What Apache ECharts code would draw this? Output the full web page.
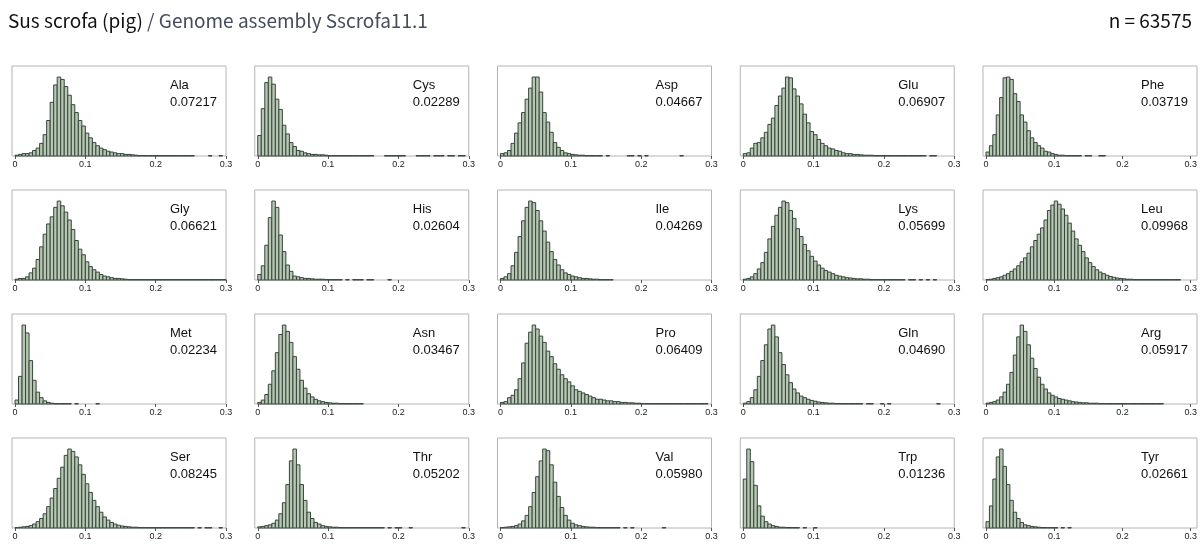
<!DOCTYPE html>
<html><head><meta charset="utf-8">
<script src="https://cdn.jsdelivr.net/npm/echarts@6/dist/echarts.min.js"></script>
<style>html,body{margin:0;padding:0;background:#fff}#c{width:1200px;height:545px}</style>
</head><body><div id="c"></div>
<script>
const speciesTitle = 'Sus scrofa (pig)';
const assemblyTitle = ' / Genome assembly Sscrofa11.1';
const countLabel = 'n = 63575';
const aminoAcids = ['Ala','Cys','Asp','Glu','Phe','Gly','His','Ile','Lys','Leu','Met','Asn','Pro','Gln','Arg','Ser','Thr','Val','Trp','Tyr'];
const meanFractions = ['0.07217','0.02289','0.04667','0.06907','0.03719','0.06621','0.02604','0.04269','0.05699','0.09968','0.02234','0.03467','0.06409','0.04690','0.05917','0.08245','0.05202','0.05980','0.01236','0.02661'];
const xTickLabels = ['0','0.1','0.2','0.3'];
const binStarts = [0,0.005,0.01,0.015,0.02,0.025,0.03,0.035,0.04,0.045,0.05,0.055,0.06,0.065,0.07,0.075,0.08,0.085,0.09,0.095,0.1,0.105,0.11,0.115,0.12,0.125,0.13,0.135,0.14,0.145,0.15,0.155,0.16,0.165,0.17,0.175,0.18,0.185,0.19,0.195,0.2,0.205,0.21,0.215,0.22,0.225,0.23,0.235,0.24,0.245,0.25,0.255,0.26,0.265,0.27,0.275,0.28,0.285,0.29,0.295];
const binWidth = 0.005;

// relative bin heights (tallest bin = 100), bins of width 0.005 from 0
const histAla = [1,2,3,3,4,7,10,16,27,45, 68,90,100,97,88,77,65,55,45,38, 29,23,17,13,10,8,6,5,4,3, 3,2,2,1.5,1,0.5,0.5,0.5,0.5,0.5, 0.5,0.5,0.5,0.5,0.5,0.5,0.5,0.5,0.5,0.5, 0.5,0,0,0,0,0.5,0,0,0.5,0];
const histCys = [26,60,93,100,91,72,59,39,28,17, 12,7,6,4,3,2,2,1.5,1.5,1, 0.5,0.5,0.5,0.5,0.5,0.5,0.5,0.5,0.5,0.5, 0.5,0.5,0.5,0,0,0,0.5,0.5,0.5,0.5, 0.5,0.5,0,0,0,0.5,0.5,0.5,0.5,0, 0.5,0.5,0.5,0,0.5,0.5,0,0.5,0.5,0];
const histAsp = [3,4,7,16,29,42,55,72,86,100, 100,81,55,43,30,17,11,7,4,3, 2,1.5,1,1,0.5,0.5,0.5,0.5,0.5,0, 0.5,0,0,0,0,0,0.5,0.5,0,0.5, 0,0.5,0,0,0,0,0,0,0,0, 0,0.5,0,0,0,0,0,0,0,0];
const histGlu = [3,4,10,16,17,23,30,40,48,64, 76,86,100,99,85,76,66,53,42,31, 27,21,16,13,10,9,7,6,4,3, 3,2,2,1.5,1,1,1,0.5,0.5,0.5, 0.5,0.5,0.5,0.5,0.5,0.5,0.5,0.5,0.5,0.5, 0.5,0.5,0,0.5,0.5,0,0,0,0,0];
const histPhe = [5,13,27,52,74,99,100,97,79,69, 52,43,32,23,17,13,10,6,5,3, 2,1,1,0.5,0.5,0.5,0.5,0.5,0,0.5, 0.5,0,0,0.5,0.5,0,0,0,0,0];
const histGly = [1,2,2,4,9,15,26,42,58,71, 80,92,100,94,86,76,64,50,39,32, 23,17,13,10,7,5,4,3,2,2, 1.5,1,0.5,0.5,0.5,0.5,0.5,0.5,0.5,0.5, 0.5,0.5,0.5,0.5,0.5,0.5,0.5,0.5,0.5,0.5, 0.5,0.5,0.5,0.5,0.5,0.5,0.5,0.5,0.5,0.5];
const histHis = [7,18,44,79,100,92,57,36,19,11, 5,4,3,2,2,1.5,1,1,1,0.5, 0.5,0.5,0.5,0.5,0,0.5,0,0.5,0.5,0.5, 0,0.5,0.5,0,0,0,0,0.5,0,0];
const histIle = [2,4,8,18,35,55,75,92,100,98, 88,75,62,48,36,26,19,13,9,7, 5,4,3,2,2,1.5,1,1,0.5,0.5, 0.5,0.5,0,0,0,0,0,0,0,0];
const histLys = [1,2,4,8,14,22,35,52,68,82, 92,100,98,88,78,65,55,45,37,30, 24,19,15,12,10,8,6,5,4,3, 2.5,2,1.5,1.5,1,1,0.5,0.5,0.5,0.5, 0.5,0.5,0.5,0.5,0.5,0.5,0,0.5,0.5,0, 0.5,0,0.5,0,0.5,0,0,0,0,0];
const histLeu = [0.5,1,2,3,4,6,8,11,14,18, 23,28,34,42,50,58,66,76,88,95, 100,96,90,82,72,62,52,44,36,28, 22,17,13,10,8,6,4.5,3.5,2.5,2, 1.5,1,1,0.5,0.5,0.5,0.5,0.5,0.5,0.5, 0.5,0.5,0.5,0.5,0.5,0.5,0.5,0,0,0];
const histMet = [5,35,100,90,55,30,15,8,4,2, 1,0.5,0.5,0.5,0.5,0.5,0,0.5,0,0, 0,0,0,0.5,0,0,0,0,0,0];
const histAsn = [2,5,12,25,42,65,88,100,92,78, 60,44,30,20,13,9,6,4,3,2, 1.5,1,1,0.5,0.5,0.5,0.5,0.5,0.5,0.5];
const histPro = [2,3,8,11,18,32,52,77,91,100, 95,86,78,67,60,51,44,37,32,28, 23,18,16,14,12,10,8,6,6,5, 4,4,3,3,2,2,1.5,1.5,1,1, 0.5,0.5,0.5,0.5,0.5,0.5,0.5,0.5,0.5,0.5, 0.5,0.5,0.5,0.5,0.5,0.5,0.5,0.5,0.5,0];
const histGln = [1,3,8,18,35,55,75,95,100,85, 65,50,37,27,19,14,10,8,6,4.5, 3.5,2.5,2,1.5,1,1,0.5,0.5,0.5,0.5, 0.5,0.5,0.5,0.5,0,0.5,0.5,0,0,0.5, 0,0.5,0,0,0,0,0,0,0,0, 0,0,0,0,0,0.5,0,0,0,0];
const histArg = [1,2,3,5,9,15,25,40,62,85, 100,92,75,58,45,34,25,19,14,11, 9,7,6,5,4,3,2.5,2,1.5,1.5, 1,1,1,0.5,0.5,0.5,0.5,0.5,0.5,0.5, 0.5,0.5,0.5,0.5,0.5,0.5,0.5,0.5,0.5,0.5, 0.5,0.5,0,0,0,0,0,0,0,0];
const histSer = [0.5,1,1.5,2,3,5,8,12,18,27, 38,50,63,77,92,100,97,90,80,68, 56,45,35,27,20,14,10,7,5,3.5, 2.5,2,1.5,1,1,0.5,0.5,0.5,0.5,0.5, 0.5,0.5,0.5,0.5,0.5,0.5,0.5,0.5,0.5,0.5, 0.5,0,0.5,0,0.5,0.5,0,0,0.5,0];
const histThr = [1.5,2,3,4,6,10,18,32,55,85, 100,80,55,35,20,12,7,5,3,2, 1.5,1,1,0.5,0.5,0.5,0.5,0.5,0.5,0.5, 0.5,0.5,0.5,0.5,0.5,0.5,0,0.5,0,0.5, 0.5,0,0,0.5,0,0,0,0,0,0, 0,0,0,0,0,0,0,0,0.5,0];
const histVal = [0.5,1,1.5,2,3,5,9,16,27,45, 65,85,100,98,80,58,40,26,16,10, 6,4,3,2,1.5,1,1,0.5,0.5,0.5, 0.5,0.5,0.5,0.5,0,0.5,0,0.5,0,0, 0,0,0,0,0,0,0.5,0,0,0];
const histTrp = [62,100,84,54,28,15,8,5,3,2, 1,1,0.5,0.5,0.5,0.5,0,0.5,0,0, 0.5];
const histTyr = [8,28,62,90,100,78,55,35,20,12, 7,4,3,2,1.5,1,0.5,0.5,0.5,0.5, 0.5,0,0.5,0,0.5];

const histograms = [histAla,histCys,histAsp,histGlu,histPhe,histGly,histHis,histIle,histLys,histLeu,histMet,histAsn,histPro,histGln,histArg,histSer,histThr,histVal,histTrp,histTyr];

const colLeft = [12, 254.75, 497.5, 740.25, 983];
const rowTop = [66, 190, 314, 438];
const boxW = 214, boxH = 90, axisInset = 3;

function renderBin(params, api) {
  const x0 = api.value(0), x1 = api.value(1), h = api.value(2);
  if (!(h > 0)) return null;
  const p0 = api.coord([x0, 0]);
  const p1 = api.coord([x1, h]);
  return {
    type: 'rect',
    shape: { x: p0[0], y: p1[1], width: p1[0] - p0[0], height: p0[1] - p1[1] },
    style: { fill: '#b7c7b3', stroke: '#35463a', lineWidth: 1 }
  };
}

const grid = [], xAxis = [], yAxis = [], series = [], title = [];
title.push({
  text: '{a|' + speciesTitle + '}{b|' + assemblyTitle + '}',
  left: 3, top: 6,
  textStyle: { fontWeight: 'normal', rich: {
    a: { fontFamily: 'Noto Sans CJK JP', fontSize: 19, fontWeight: 'normal', color: '#111' },
    b: { fontFamily: 'Noto Sans CJK JP', fontSize: 19, fontWeight: 'normal', color: '#464c5c' }
  } }
});
title.push({
  text: countLabel, right: 3, top: 6,
  textStyle: { fontFamily: 'Noto Sans CJK JP', fontSize: 19, fontWeight: 'normal', color: '#111' }
});

aminoAcids.forEach((aa, i) => {
  const r = Math.floor(i / 5), c = i % 5;
  const L = colLeft[c], T = rowTop[r];
  grid.push({ left: L, top: T, width: boxW, height: boxH, show: true, borderColor: '#b4b4b4', borderWidth: 1, backgroundColor: 'transparent' });
  xAxis.push({ gridIndex: 2 * i, type: 'value', min: 0, max: 1, show: false });
  yAxis.push({ gridIndex: 2 * i, type: 'value', min: 0, max: 1, show: false });
  grid.push({ left: L + axisInset, top: T, width: boxW - axisInset, height: boxH });
  xAxis.push({
    gridIndex: 2 * i + 1, type: 'value', min: 0, max: 0.3, interval: 0.1,
    axisLine: { show: false },
    axisTick: { show: true, length: 3, lineStyle: { color: '#555' } },
    axisLabel: { fontFamily: 'Liberation Sans', fontSize: 9, margin: 4, color: '#222',
      formatter: v => xTickLabels[Math.round(v * 10)] },
    splitLine: { show: false }
  });
  yAxis.push({ gridIndex: 2 * i + 1, type: 'value', min: 0, max: 114, show: false });
  series.push({
    type: 'custom', xAxisIndex: 2 * i + 1, yAxisIndex: 2 * i + 1,
    renderItem: renderBin, silent: true,
    data: histograms[i].map((h, k) => [binStarts[k], binStarts[k] + binWidth, h])
  });
  title.push({
    text: '{n|' + aa + '}\n{n|' + meanFractions[i] + '}',
    left: L + 153, top: T + 6,
    textStyle: { fontWeight: 'normal', rich: { n: { fontFamily: 'Liberation Sans', fontSize: 13, fontWeight: 'normal', lineHeight: 17, color: '#111' } } }
  });
});

const chart = echarts.init(document.getElementById('c'), null, { renderer: 'canvas' });
chart.setOption({ animation: false, backgroundColor: '#fff', title, grid, xAxis, yAxis, series });
</script>
</body></html>
